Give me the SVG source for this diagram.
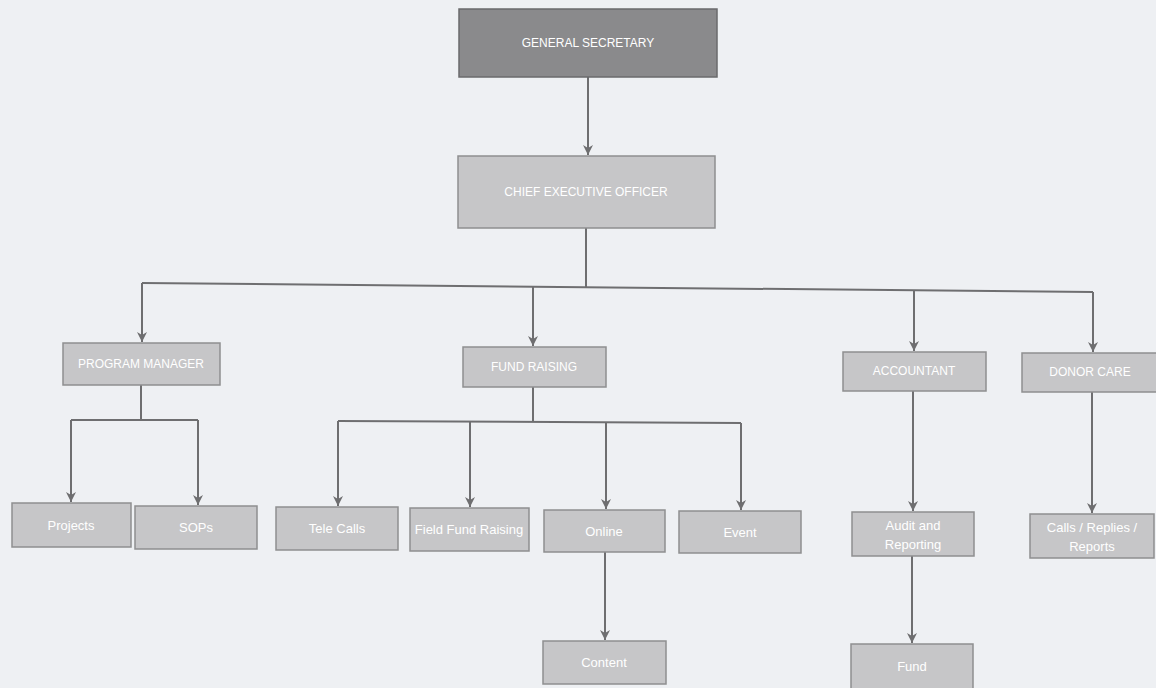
<svg xmlns="http://www.w3.org/2000/svg" width="1156" height="688" viewBox="0 0 1156 688">
<style>
.bg{fill:#eef0f3}
.box{fill:#c6c6c8;stroke:#8e8e90;stroke-width:1.5}
.dark{fill:#8a8a8c;stroke:#6a6a6c;stroke-width:1.5}
.t{font-family:"Liberation Sans",Arial,sans-serif;font-size:12px;fill:#ffffff;text-anchor:middle;dominant-baseline:central}
.tc{font-size:13px}
.ln{fill:none;stroke:#6e6e70;stroke-width:2}
</style>
<defs>
<marker id="ah" markerUnits="userSpaceOnUse" markerWidth="11" markerHeight="10" refX="10" refY="5" orient="auto" viewBox="0 0 11 10">
<path d="M0,0 L3,5 L0,10 L10,5 Z" fill="#6e6e70"/>
</marker>
</defs>
<rect class="bg" x="0" y="0" width="1156" height="688"/>
<g id="connectors">
<path class="ln" d="M588,77 V155" marker-end="url(#ah)"/>
<path class="ln" d="M586,228 V287"/>
<path class="ln" d="M142,283 L1093,292"/>
<path class="ln" d="M142,283 V342" marker-end="url(#ah)"/>
<path class="ln" d="M533,287 V346" marker-end="url(#ah)"/>
<path class="ln" d="M914,290 V351" marker-end="url(#ah)"/>
<path class="ln" d="M1093,292 V352" marker-end="url(#ah)"/>
<path class="ln" d="M141,385 V420"/>
<path class="ln" d="M71,420 H198"/>
<path class="ln" d="M71,420 V502" marker-end="url(#ah)"/>
<path class="ln" d="M198,420 V505" marker-end="url(#ah)"/>
<path class="ln" d="M533,387 V422"/>
<path class="ln" d="M338,421 L741,423"/>
<path class="ln" d="M338,421 V506" marker-end="url(#ah)"/>
<path class="ln" d="M470,421 V507" marker-end="url(#ah)"/>
<path class="ln" d="M606,422 V509" marker-end="url(#ah)"/>
<path class="ln" d="M741,423 V510" marker-end="url(#ah)"/>
<path class="ln" d="M605,552 V640" marker-end="url(#ah)"/>
<path class="ln" d="M913,391 V511" marker-end="url(#ah)"/>
<path class="ln" d="M912,556 V643" marker-end="url(#ah)"/>
<path class="ln" d="M1092,392 V513" marker-end="url(#ah)"/>
</g>
<g id="general-secretary"><rect class="dark" x="459" y="9" width="258" height="68"/><text class="t" x="588" y="43">GENERAL SECRETARY</text></g>
<g id="ceo"><rect class="box" x="458" y="156" width="257" height="72"/><text class="t" x="586" y="192">CHIEF EXECUTIVE OFFICER</text></g>
<g id="program-manager"><rect class="box" x="63" y="343" width="157" height="42"/><text class="t" x="141" y="364">PROGRAM MANAGER</text></g>
<g id="fund-raising"><rect class="box" x="463" y="347" width="143" height="40"/><text class="t" x="534" y="367">FUND RAISING</text></g>
<g id="accountant"><rect class="box" x="843" y="352" width="143" height="39"/><text class="t" x="914" y="371">ACCOUNTANT</text></g>
<g id="donor-care"><rect class="box" x="1022" y="353" width="140" height="39"/><text class="t" x="1090" y="372">DONOR CARE</text></g>
<g id="projects"><rect class="box" x="12" y="503" width="119" height="44"/><text class="t tc" x="71" y="525">Projects</text></g>
<g id="sops"><rect class="box" x="135" y="506" width="122" height="43"/><text class="t tc" x="196" y="527">SOPs</text></g>
<g id="tele-calls"><rect class="box" x="276" y="507" width="122" height="43"/><text class="t tc" x="337" y="528">Tele Calls</text></g>
<g id="field-fund-raising"><rect class="box" x="410" y="508" width="119" height="43"/><text class="t tc" x="469" y="529">Field Fund Raising</text></g>
<g id="online"><rect class="box" x="544" y="510" width="121" height="42"/><text class="t tc" x="604" y="531">Online</text></g>
<g id="event"><rect class="box" x="679" y="511" width="122" height="42"/><text class="t tc" x="740" y="532">Event</text></g>
<g id="content"><rect class="box" x="543" y="641" width="123" height="43"/><text class="t tc" x="604" y="662">Content</text></g>
<g id="audit-reporting"><rect class="box" x="852" y="512" width="122" height="44"/><text class="t tc" x="913" y="525">Audit and</text><text class="t tc" x="913" y="544">Reporting</text></g>
<g id="fund"><rect class="box" x="851" y="644" width="122" height="46"/><text class="t tc" x="912" y="666">Fund</text></g>
<g id="calls-replies-reports"><rect class="box" x="1030" y="514" width="124" height="44"/><text class="t tc" x="1092" y="527">Calls / Replies /</text><text class="t tc" x="1092" y="546">Reports</text></g>
</svg>
